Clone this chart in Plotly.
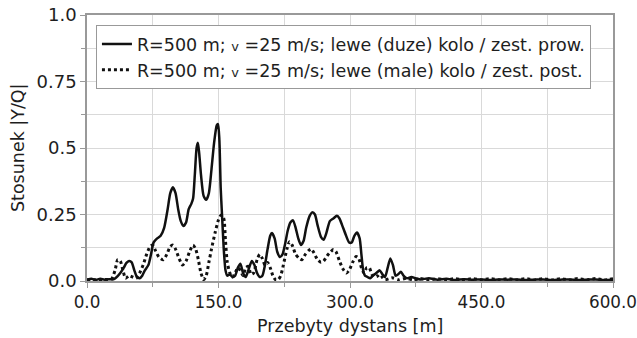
import plotly.graph_objects as go

# Solid series: left (large) wheel / leading wheelset
x_front = [0, 5, 10, 15, 20, 25, 30, 33, 38, 42, 45, 48, 51, 54, 57, 60, 63, 66, 70, 73, 76, 80, 84, 88,
           92, 95, 98, 101, 104, 107, 110, 113, 116, 119, 121, 123, 125, 126.5, 128, 130, 133, 136, 139,
           142, 145, 148, 149.5, 151, 152.5, 154, 156, 158, 160, 163, 166, 169, 172, 175, 178, 181, 184,
           188, 191, 194, 197, 200, 203, 206, 209, 211, 214, 217, 220, 223, 226, 229, 232, 235, 238, 241,
           244, 247, 250, 254, 257, 260, 263, 267, 270, 273, 277, 281, 285, 288, 291, 295, 299, 302, 305,
           308, 311, 313, 315, 317, 320, 323, 326, 330, 334, 337, 340, 343, 346, 349, 352, 355, 358, 361,
           365, 370, 375, 380, 390, 400, 410, 420, 430, 440, 450, 460, 470, 480, 490, 500, 510, 520, 530,
           540, 550, 560, 570, 580, 590, 600]
y_front = [0.005, 0.008, 0.004, 0.008, 0.005, 0.007, 0.006, 0.012, 0.03, 0.05, 0.068, 0.075, 0.07, 0.04,
           0.015, 0.01, 0.02, 0.04, 0.06, 0.1, 0.145, 0.16, 0.17, 0.2, 0.27, 0.33, 0.352, 0.33, 0.27, 0.225,
           0.207, 0.22, 0.27, 0.29, 0.31, 0.4, 0.5, 0.52, 0.48, 0.4, 0.32, 0.305, 0.33, 0.42, 0.52, 0.585,
           0.59, 0.53, 0.35, 0.25, 0.12, 0.04, 0.02, 0.025, 0.015, 0.02, 0.05, 0.065, 0.03, 0.015, 0.04,
           0.075, 0.06, 0.03, 0.015, 0.02, 0.06, 0.12, 0.17, 0.18, 0.16, 0.11, 0.09, 0.1, 0.14, 0.19, 0.22,
           0.228, 0.2, 0.16, 0.135, 0.15, 0.2, 0.245, 0.258, 0.25, 0.21, 0.165, 0.155, 0.18, 0.225, 0.235,
           0.245, 0.235, 0.21, 0.175, 0.145, 0.145, 0.17, 0.182, 0.16, 0.1, 0.04, 0.02, 0.015, 0.01, 0.02,
           0.03, 0.04, 0.025, 0.015, 0.05, 0.085, 0.06, 0.02, 0.025, 0.035, 0.02, 0.01, 0.015, 0.01, 0.006,
           0.01, 0.005, 0.008, 0.004, 0.007, 0.005, 0.006, 0.004, 0.006, 0.005, 0.006, 0.004, 0.005, 0.006,
           0.004, 0.005, 0.006, 0.004, 0.005, 0.006, 0.004, 0.005]

# Dotted series: left (small) wheel / trailing wheelset
x_rear = [0, 10, 20, 28, 32, 35, 38, 41, 44, 48, 52, 56, 60, 64, 68, 72, 75, 78, 82, 87, 91, 95, 98, 101,
          105, 109, 113, 117, 121, 124, 127, 130, 133, 136, 139, 142, 146, 150, 153, 156, 158, 160, 163,
          166, 169, 172, 175, 178, 181, 184, 187, 190, 194, 197, 200, 203, 206, 209, 212, 215, 218, 221,
          224, 228, 231, 234, 238, 242, 245, 249, 253, 256, 259, 263, 267, 270, 274, 278, 281, 284, 288,
          292, 296, 299, 303, 307, 310, 313, 316, 319, 322, 325, 328, 331, 334, 337, 340, 348, 356, 364,
          372, 380, 390, 400, 410, 420, 430, 440, 450, 460, 470, 480, 490, 500, 510, 520, 530, 540, 550,
          560, 570, 580, 590, 600]
y_rear = [0.005, 0.005, 0.006, 0.008, 0.04, 0.08, 0.075, 0.04, 0.01, 0.02, 0.015, 0.01, 0.03, 0.06, 0.1,
          0.13, 0.135, 0.115, 0.09, 0.08, 0.1, 0.13, 0.135, 0.12, 0.085, 0.06, 0.075, 0.11, 0.135, 0.12,
          0.08, 0.03, 0.005, 0.02, 0.07, 0.12, 0.18, 0.23, 0.248, 0.235, 0.15, 0.07, 0.03, 0.015, 0.03,
          0.05, 0.04, 0.02, 0.05, 0.055, 0.025, 0.03, 0.08, 0.1, 0.085, 0.06, 0.07, 0.05, 0.02, 0.005,
          0.005, 0.02, 0.06, 0.12, 0.148, 0.135, 0.1, 0.085, 0.08, 0.1, 0.115, 0.12, 0.105, 0.08, 0.07,
          0.075, 0.095, 0.11, 0.118, 0.11, 0.075, 0.045, 0.03, 0.04, 0.07, 0.092, 0.085, 0.05, 0.03, 0.05,
          0.05, 0.025, 0.015, 0.02, 0.01, 0.015, 0.005, 0.012, 0.004, 0.01, 0.004, 0.009, 0.004, 0.009,
          0.004, 0.009, 0.004, 0.009, 0.004, 0.009, 0.004, 0.009, 0.004, 0.009, 0.004, 0.009, 0.004,
          0.009, 0.004, 0.009, 0.004, 0.009, 0.004, 0.009]

x_tickvals = [0, 150, 300, 450, 600]
x_ticktext = ["0.0", "150.0", "300.0", "450.0", "600.0"]
y_tickvals = [0, 0.25, 0.5, 0.75, 1.0]
y_ticktext = ["0.0", "0.25", "0.5", "0.75", "1.0"]

name_front = "R=500 m; <span style='font-size:13px'>v</span> =25 m/s; lewe (duze) kolo / zest. prow."
name_rear = "R=500 m; <span style='font-size:13px'>v</span> =25 m/s; lewe (male) kolo / zest. post."

FONT = "DejaVu Sans, sans-serif"
TXT = "#1e1e1e"

fig = go.Figure()
fig.add_trace(go.Scatter(x=x_front, y=y_front, mode="lines", name=name_front,
                         line=dict(color="#111111", width=2.5, shape="spline", smoothing=0.6)))
fig.add_trace(go.Scatter(x=x_rear, y=y_rear, mode="lines", name=name_rear,
                         line=dict(color="#111111", width=3, dash="dot", shape="spline", smoothing=0.6)))

fig.update_layout(
    width=637, height=338,
    margin=dict(l=87, r=24, t=15, b=57, autoexpand=False),
    paper_bgcolor="white", plot_bgcolor="white",
    font=dict(family=FONT, color=TXT, size=17),
    showlegend=True,
    legend=dict(x=0.017, y=0.962, xanchor="left", yanchor="top",
                bgcolor="white", bordercolor="#999999", borderwidth=1,
                font=dict(size=17.5, family=FONT, color=TXT),
                tracegroupgap=0, itemwidth=30),
    xaxis=dict(range=[0, 600], tickvals=x_tickvals, ticktext=x_ticktext, automargin=False,
               ticklabeloverflow="allow",
               showgrid=True, gridcolor="#d9d9d9", gridwidth=1,
               minor=dict(dtick=75, tick0=0, showgrid=True, gridcolor="#d9d9d9",
                          ticks="outside", ticklen=4, tickcolor="#999999"),
               ticks="outside", ticklen=5, tickcolor="#999999",
               showline=True, linecolor="#999999", linewidth=1.5, mirror=True,
               zeroline=False, tickfont=dict(size=16.8, family=FONT, color=TXT)),
    yaxis=dict(range=[0, 1.0], tickvals=y_tickvals, ticktext=y_ticktext, automargin=False,
               ticklabeloverflow="allow",
               showgrid=True, gridcolor="#d9d9d9", gridwidth=1,
               minor=dict(dtick=0.125, tick0=0, showgrid=True, gridcolor="#d9d9d9",
                          ticks="outside", ticklen=4, tickcolor="#999999"),
               ticks="outside", ticklen=5, tickcolor="#999999",
               showline=True, linecolor="#999999", linewidth=1.5, mirror=True,
               zeroline=False, tickfont=dict(size=18, family=FONT, color=TXT)),
    annotations=[
        dict(text="Przebyty dystans [m]", xref="paper", yref="paper", x=0.5, y=-0.169,
             xanchor="center", yanchor="middle", showarrow=False,
             font=dict(size=17.5, family=FONT, color=TXT)),
        dict(text="Stosunek |Y/Q|", xref="paper", yref="paper", x=-0.131, y=0.5,
             xanchor="center", yanchor="middle", textangle=-90, showarrow=False,
             font=dict(size=17.5, family=FONT, color=TXT)),
    ],
)

fig.write_html("out.html")
